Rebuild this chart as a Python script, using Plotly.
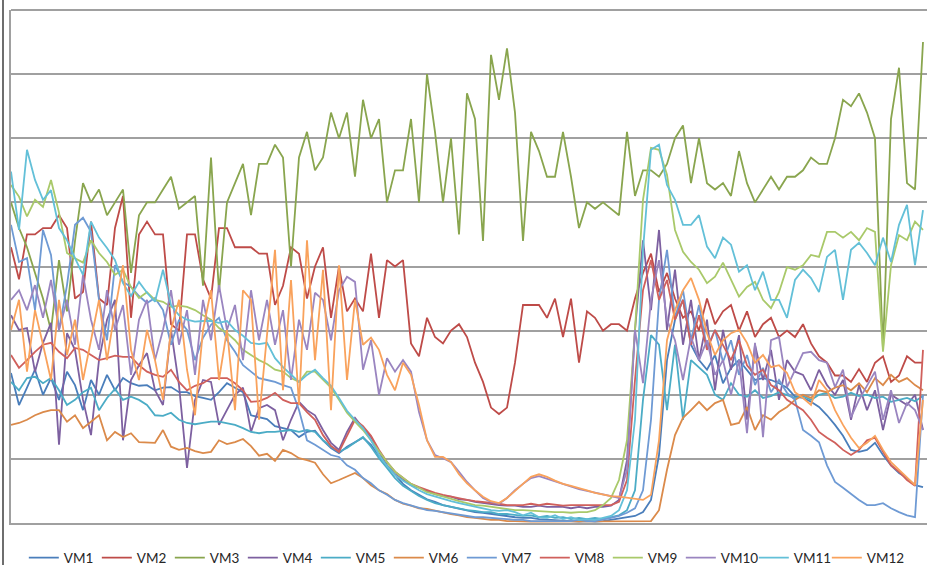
import plotly.graph_objects as go

# sample index (time steps)
time = list(range(115))

vm1 = [23.4,18.4,21.1,23.9,20.0,22.6,19.2,23.6,21.5,17.6,
       22.3,20.0,23.1,20.7,22.6,21.8,21.4,21.5,20.7,21.1,
       21.2,20.4,20.4,19.8,19.5,19.2,20.4,21.8,21.1,20.4,
       16.8,16.5,16.2,15.1,14.8,14.5,13.4,14.2,14.4,12.9,
       11.7,10.9,11.9,12.6,13.3,12.2,10.5,9.0,7.5,6.1,
       5.1,4.4,3.7,3.3,2.8,2.5,2.2,2.0,1.7,1.6,
       1.4,1.2,1.1,0.9,0.8,0.8,0.6,0.5,0.5,0.3,
       0.3,0.2,0.3,0.2,0.3,0.5,0.6,0.8,1.1,1.7,
       3.6,10.6,25.4,31.7,34.8,27.8,25.4,23.9,26.2,21.8,
       24.2,25.4,23.9,22.3,22.6,22.3,21.8,21.1,19.7,19.5,
       18.9,18.1,16.8,15.3,13.6,11.4,11.1,11.4,12.5,10.6,
       9.0,7.8,7.0,5.9,5.6]

vm2 = [43,38,45,45,46,46,48,46,35,36,
       47,35,34,46,51,32,45,47,45,45,
       31,30,45,45,38,35,46,46,43,43,
       43,42,42,34,37,43,42,35,40,43,
       32,40,33,35,33,42,32,41,40,41,
       28,26,32,29,28,30,31,29,25,22,
       18,17,18,25,34,34,34,32,35,29,
       35,25,33,32,30,31,31,30,35,39,
       42,36,39,35,32,33,30,35,31,33,
       34,30,33,29,31,32,29,30,29,31,
       28,26,25,23,23,22,24,22,25,26,
       22,23,26,25,25]

vm3 = [50,46,43,39,35,30,41,33,44,53,
       50,52,48,50,52,39,48,50,50,52,
       54,49,50,51,37,57,36,50,53,56,
       48,56,56,59,57,40,57,61,55,57,
       64,60,64,54,66,60,63,50,55,55,
       63,50,70,61,50,60,45,67,63,44,
       73,66,74,64,44,61,58,54,54,61,
       54,46,50,49,50,49,48,61,51,55,
       55,54,56,60,62,53,60,53,52,53,
       51,58,53,50,52,54,52,54,54,55,
       57,56,56,60,66,65,67,64,60,27,
       63,71,53,52,75]

vm4 = [32.4,30.1,30.4,23.6,28.1,31.2,12.2,29.6,27.0,19.2,
       13.7,25.4,31.7,34.8,12.9,22.3,24.6,26.5,20.7,18.4,
       30.1,21.5,8.6,19.2,22.3,22.0,15.3,17.6,20.0,21.1,
       14.2,17.9,18.4,17.6,12.9,16.1,18.9,17.6,16.8,14.5,
       12.5,11.4,14.2,16.4,14.8,13.4,11.1,8.9,7.6,6.7,
       5.9,5.5,5.0,4.5,4.2,4.1,3.7,3.6,3.3,3.1,
       3.0,2.8,2.7,2.7,2.5,2.5,2.7,2.5,2.5,2.5,
       2.3,2.5,2.3,2.5,2.5,2.7,3.6,9.8,30.1,44.1,
       33.2,45.7,30.1,39.5,27.8,34.8,25.4,31.7,20.7,30.1,
       23.9,29.3,16.1,27.8,22.3,27.0,19.2,25.4,23.6,23.1,
       20.7,23.9,21.5,20.0,22.3,16.1,21.5,17.6,20.7,14.5,
       20.0,19.2,18.4,20.0,14.5]

vm5 = [22.0,20.7,22.6,22.8,21.8,22.6,20.7,18.4,19.2,20.4,
       21.1,17.6,19.5,20.9,19.2,19.7,19.2,18.4,16.8,16.7,
       17.2,16.1,15.6,15.4,15.6,15.8,15.8,15.6,15.3,14.8,
       14.2,14.0,14.2,14.2,14.4,14.5,14.2,14.5,14.2,12.9,
       11.9,11.1,11.7,12.6,13.4,11.9,10.1,8.6,7.0,5.8,
       5.0,4.2,3.6,3.1,2.8,2.5,2.3,2.0,1.9,1.7,
       1.7,1.4,1.4,1.2,1.1,1.2,0.9,1.1,0.8,0.9,
       0.6,0.8,0.6,0.8,0.6,0.9,1.2,2.0,5.1,19.2,
       29.3,27.8,17.6,27.8,16.1,25.4,24.3,23.1,20.0,19.2,
       21.8,20.0,19.7,20.7,19.5,19.8,20.4,20.0,19.5,19.8,
       19.2,20.0,20.3,19.5,19.7,20.3,19.8,20.0,19.5,19.7,
       18.9,19.2,19.5,19.0,19.8]

vm6 = [15.3,15.6,16.1,16.8,17.3,17.6,17.6,15.8,16.8,14.8,
       15.8,16.8,12.9,14.2,13.4,14.0,12.6,12.6,12.5,14.5,
       11.9,11.4,11.7,11.2,10.9,11.1,12.9,12.3,12.6,13.1,
       12.0,10.5,10.8,9.7,11.4,10.9,10.1,9.8,9.4,7.6,
       6.2,6.7,7.3,7.8,7.0,5.9,5.1,4.5,3.6,3.0,
       2.7,2.3,2.2,1.9,1.7,1.4,1.2,0.9,0.8,0.6,
       0.5,0.5,0.3,0.3,0.2,0.2,0.2,0.2,0.2,0.2,
       0.2,0.2,0.2,0.2,0.2,0.2,0.2,0.2,0.2,0.2,
       0.3,2.0,8.3,13.7,16.4,17.6,18.9,17.6,18.7,19.2,
       15.3,15.6,18.1,14.5,16.8,16.1,17.3,18.1,19.2,20.0,
       19.5,20.7,20.4,21.1,21.5,20.7,21.8,20.4,22.6,21.5,
       23.1,22.0,22.6,21.5,20.7]

vm7 = [46.5,40.7,41.3,33.2,45.7,41.8,30.1,37.1,46.5,47.6,
       45.4,34.8,28.5,40.2,37.6,36.8,35.4,34.3,35.1,33.2,
       27.8,31.7,30.1,25.4,28.9,30.9,32.0,28.5,26.7,24.6,
       23.6,22.6,22.3,22.0,21.5,21.1,17.6,12.9,12.2,11.4,
       10.6,10.3,9.0,8.3,7.0,6.2,5.1,4.4,3.6,3.1,
       2.7,2.3,2.0,1.9,1.7,1.4,1.2,1.1,0.9,0.9,
       0.8,0.6,0.6,0.5,0.5,0.3,0.3,0.3,0.3,0.3,
       0.3,0.5,0.3,0.3,0.5,0.8,1.1,1.6,2.3,5.1,
       16.1,34.8,42.6,32.0,36.3,28.5,34.0,27.3,30.1,25.1,
       28.5,23.1,26.2,21.5,24.2,20.4,22.3,20.3,19.2,14.5,
       13.6,12.6,9.0,6.4,5.5,4.5,3.6,2.8,2.8,3.1,
       2.3,1.7,1.2,0.9,20.0]

vm8 = [26.2,24.2,25.4,26.7,27.8,28.1,26.7,25.7,27.3,27.0,
       26.2,25.4,25.7,26.1,25.9,25.9,24.6,23.6,23.1,22.8,
       23.9,22.0,20.7,21.4,21.8,22.6,22.6,22.6,21.8,20.7,
       18.9,19.0,19.5,20.3,19.2,18.7,18.7,17.3,16.1,13.7,
       12.0,11.1,13.6,16.1,15.1,13.6,11.4,9.5,8.0,7.0,
       6.1,5.6,5.1,4.7,4.4,4.1,3.9,3.6,3.4,3.3,
       3.1,3.0,2.8,2.8,2.8,3.0,2.8,3.0,2.8,2.7,
       2.8,2.8,2.7,2.8,2.7,2.8,3.3,6.7,22.3,36.3,
       41.0,34.8,37.9,31.7,34.8,27.8,32.4,27.0,30.1,27.8,
       25.4,28.5,24.6,23.1,23.9,21.5,20.7,19.2,18.4,17.6,
       16.1,14.2,13.3,12.5,11.4,10.6,11.4,12.9,13.3,11.1,
       9.0,8.0,6.7,5.8,27.0]

vm9 = [52.7,50.9,47.8,50.4,49.3,53.5,48.4,42.1,41.3,40.6,
       44.1,42.1,40.7,38.7,39.5,36.8,35.1,36.0,34.8,34.5,
       33.7,33.9,33.7,33.2,32.4,31.7,30.4,29.6,28.5,27.0,
       26.2,25.4,24.8,23.9,23.6,22.6,22.0,23.6,23.6,22.3,
       21.1,19.2,17.2,15.8,14.5,12.9,11.1,9.5,8.0,7.0,
       6.1,5.5,4.8,4.5,4.1,3.7,3.4,3.1,2.8,2.7,
       2.5,2.3,2.2,2.0,2.0,1.9,1.9,1.7,1.7,1.7,
       1.6,1.7,1.7,2.0,2.8,3.9,6.7,12.9,30.1,50.4,
       58.5,58.2,54.3,45.7,42.3,40.7,39.5,37.4,38.4,40.6,
       37.9,35.3,36.8,37.6,34.8,33.5,36.0,39.9,39.5,40.2,
       41.8,41.5,45.4,45.4,44.5,45.4,44.1,46.0,45.4,26.7,
       40.2,44.9,44.1,47.0,45.7]

vm10 = [34.8,36.3,33.2,37.1,32.0,37.9,30.1,34.8,27.8,38.7,
        31.7,27.0,36.3,30.1,34.0,23.1,31.7,34.8,25.4,30.1,
        36.3,27.8,33.2,23.1,34.8,28.5,37.1,30.1,34.0,25.4,
        36.3,28.5,34.8,27.8,33.2,22.3,31.7,27.0,35.9,34.8,
        28.5,36.3,38.4,37.6,23.9,28.5,20.0,25.7,23.6,25.4,
        23.6,17.3,12.9,10.6,10.1,9.5,8.0,6.4,5.1,3.9,
        3.3,3.0,3.9,5.1,6.1,7.0,7.3,6.9,6.4,6.1,
        5.6,5.3,5.0,4.7,4.4,4.1,3.9,8.3,30.1,21.8,
        34.8,41.0,31.7,28.5,22.3,29.0,25.4,28.5,23.1,25.4,
        20.0,25.4,14.0,28.1,13.4,28.5,29.0,21.2,23.9,26.5,
        26.7,25.4,25.0,21.2,23.9,16.5,19.2,21.5,23.6,16.1,
        20.7,15.6,18.7,17.6,14.5]

vm11 = [54.8,45.7,58.2,53.5,50.4,51.9,46.0,44.1,41.3,38.7,
        47.0,44.5,42.9,41.0,37.4,35.4,37.6,35.9,34.5,39.5,
        34.0,32.4,31.7,31.4,31.5,31.5,31.2,31.5,30.1,29.2,
        28.1,27.9,28.1,25.7,24.3,23.2,22.0,23.1,23.9,22.6,
        21.4,19.5,17.5,16.1,14.8,12.9,10.6,8.9,7.5,6.6,
        5.8,5.1,4.5,4.1,3.7,3.4,3.1,2.8,2.5,2.3,
        2.0,1.9,2.0,1.7,1.2,1.6,0.9,0.8,1.2,0.6,
        0.9,0.5,0.6,0.5,0.8,1.1,2.0,5.1,16.1,42.6,
        58.2,59.0,52.7,50.4,46.5,46.5,48.0,43.1,41.3,44.5,
        43.4,39.2,40.2,36.3,39.2,34.8,34.8,32.0,37.9,39.5,
        38.2,36.0,41.5,42.6,34.8,42.6,43.7,42.1,40.2,44.5,
        40.7,46.5,49.6,40.2,48.8]

vm12 = [30.1,34.8,23.6,33.2,27.8,22.3,34.8,26.2,31.7,22.3,
        28.5,34.8,25.4,33.2,40.2,27.0,22.3,30.1,25.4,19.2,
        30.1,34.8,23.9,16.8,30.1,36.3,22.3,30.1,17.6,36.3,
        34.8,16.1,29.3,42.6,20.7,37.9,18.4,44.1,25.4,39.5,
        17.6,40.2,22.3,34.8,27.8,28.9,27.0,23.1,20.7,25.0,
        23.1,18.4,12.9,10.3,10.3,9.5,7.6,6.2,5.1,4.1,
        3.4,3.1,3.9,5.0,6.1,7.2,7.6,7.2,6.6,6.1,
        5.8,5.5,5.1,4.7,4.4,4.2,4.1,3.9,3.7,3.6,
        4.4,12.9,28.5,33.2,36.3,38.2,34.8,29.6,26.2,28.5,
        29.6,30.1,28.1,25.0,26.2,24.3,24.6,23.4,20.4,19.5,
        18.4,22.3,20.7,17.6,15.3,13.3,11.7,12.5,13.6,11.4,
        9.5,8.3,7.0,5.9,19.2]

names = ["VM1", "VM2", "VM3", "VM4", "VM5", "VM6",
         "VM7", "VM8", "VM9", "VM10", "VM11", "VM12"]
series = [vm1, vm2, vm3, vm4, vm5, vm6, vm7, vm8, vm9, vm10, vm11, vm12]
colors = ["#4A7EBB", "#BE4B48", "#89A54E", "#7D60A0", "#4BACC6", "#DB8A4A",
          "#6E9AD4", "#D0605C", "#A9C96A", "#9A85C0", "#63C0D8", "#F9A25C"]

fig = go.Figure()
for k, (n, s, c) in enumerate(zip(names, series, colors)):
    fig.add_trace(go.Scatter(x=time[:len(s)], y=s, mode="lines", name=n,
                             line=dict(color=c, width=1.8),
                             legendwidth=(40 if k == len(names) - 1 else 28)))

fig.update_layout(
    width=927, height=565,
    margin=dict(l=11, r=0, t=10, b=42, autoexpand=False),
    paper_bgcolor="white", plot_bgcolor="white",
    showlegend=True,
    legend=dict(orientation="h", x=0.014, xanchor="left", y=-0.068, yanchor="middle",
                font=dict(family="Lato, Liberation Sans, sans-serif", size=13.5, color="#262626"),
                entrywidthmode="pixels", bgcolor="rgba(0,0,0,0)"),
    xaxis=dict(range=[0, 114.5], showgrid=False, zeroline=False, showticklabels=False,
               ticks="", showline=True, linecolor="#A0A0A0", linewidth=2),
    yaxis=dict(range=[0, 80], dtick=10, showgrid=True, gridcolor="#A0A0A0", gridwidth=2,
               zeroline=False, showticklabels=False, ticks="",
               showline=True, linecolor="#A0A0A0", linewidth=2),
    shapes=[dict(type="line", xref="paper", yref="paper", x0=-8/916, x1=-8/916,
                 y0=-0.09, y1=1.03, line=dict(color="#6E6E6E", width=2)),
            dict(type="line", xref="paper", yref="paper", x0=0, x1=1,
                 y0=1, y1=1, line=dict(color="#A0A0A0", width=2))],
)

fig.write_html("out.html", config={"displayModeBar": False},
               post_script="document.body.style.margin='0';document.body.style.overflow='hidden';")
